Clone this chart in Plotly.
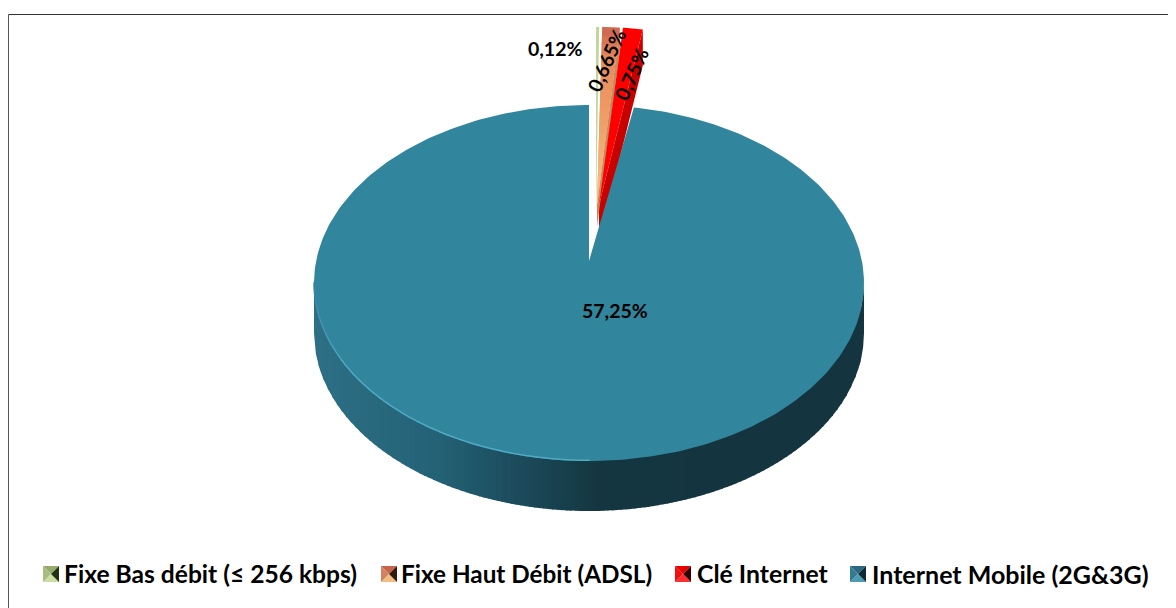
import numpy as np
import plotly.graph_objects as go

categories = ["Fixe Bas débit (≤ 256 kbps)", "Fixe Haut Débit (ADSL)", "Clé Internet", "Internet Mobile (2G&3G)"]
values = [0.12, 0.665, 0.75, 57.25]
top_colors = ["#c3d69b", "#e8935f", "#ff0000", "#31859c"]
wall_colors = ["#b5c88d", "#c38c5e", "#c90000", "#14343f"]

# pie geometry, in pixels of the page
CX, CY, RX, RY, DEPTH = 589, 283, 275, 178, 50
MAIN_APEX = (589, 261)
SMALL_APEX = (596, 205)
SMALL_RX, SMALL_RY = 250, 178
SMALL_DEPTH = [14, 22, 36]
APEX_SHIFT = [0, 1, 3]
RIM_SHIFT = [0, 3, 6]

total = sum(values)
edges = np.cumsum([0] + values) / total * 2 * np.pi
FONT = "Lato"

fig = go.Figure()


def poly(xs, ys, color, name=None):
    fig.add_trace(go.Scatter(x=list(xs), y=list(ys), mode="lines", fill="toself", fillcolor=color,
                             line=dict(width=0, color=color), hoverinfo="skip", name=name, showlegend=False))


def mix(a, b, t):
    return "rgb(%d,%d,%d)" % tuple(a[i] + (b[i] - a[i]) * t for i in range(3))


def small_outline(i):
    t = np.linspace(edges[i], edges[i + 1], 12)
    ax = SMALL_APEX[0] + APEX_SHIFT[i]
    ay = SMALL_APEX[1]
    ox = SMALL_APEX[0] + RIM_SHIFT[i] + SMALL_RX * np.sin(t)
    oy = ay - SMALL_RY * np.cos(t)
    return ax, ay, ox, oy


# small exploded slices: side walls first (red at the back), then top surfaces
for i in [2, 1, 0]:
    ax, ay, ox, oy = small_outline(i)
    d = SMALL_DEPTH[i]
    poly([ax, ox[-1], ox[-1], ax], [ay, oy[-1], oy[-1] + d, ay + d], wall_colors[i])

orange_stops = [(0.0, (246, 196, 140)), (0.45, (240, 160, 105)), (0.8, (232, 140, 92)), (1.0, (205, 102, 82))]
for i in [2, 1, 0]:
    ax, ay, ox, oy = small_outline(i)
    poly(np.r_[ax, ox], np.r_[ay, oy], top_colors[i], name=categories[i])
    if i == 1:
        # shaded radial bands of the orange slice
        fr = np.linspace(0, 1, 21)
        for f0, f1 in zip(fr[:-1], fr[1:]):
            f1b = min(1, f1 + 0.004)
            bx0 = ax + (ox - ax) * f0
            by0 = ay + (oy - ay) * f0
            bx1 = ax + (ox - ax) * f1b
            by1 = ay + (oy - ay) * f1b
            rgb = [np.interp((f0 + f1) / 2, [s[0] for s in orange_stops], [s[1][k] for s in orange_stops])
                   for k in range(3)]
            poly(np.r_[bx0, bx1[::-1]], np.r_[by0, by1[::-1]], "rgb(%d,%d,%d)" % tuple(rgb))

# main slice: side wall as vertical shaded strips
wall_stops = [(314, (46, 112, 134)), (440, (36, 98, 118)), (500, (30, 80, 98)), (597, (21, 55, 66)),
              (864, (20, 52, 63))]
stop_x = [s[0] for s in wall_stops]
n = 120
xs = np.linspace(CX - RX, CX + RX, n + 1)
for a, b in zip(xs[:-1], xs[1:]):
    gx = np.linspace(a, b + 1.0, 4)
    gx = np.clip(gx, CX - RX, CX + RX)
    low = CY + RY * np.sqrt(np.clip(1 - ((gx - CX) / RX) ** 2, 0, 1))
    m = (a + b) / 2
    rgb = [np.interp(m, stop_x, [s[1][k] for s in wall_stops]) for k in range(3)]
    poly(np.r_[gx, gx[::-1]], np.r_[low - 2, (low + DEPTH)[::-1]], "rgb(%d,%d,%d)" % tuple(rgb))

# main slice: top surface
t = np.linspace(edges[3], edges[4], 361)
ox = CX + RX * np.sin(t)
oy = CY - RY * np.cos(t)
poly(np.r_[MAIN_APEX[0], ox], np.r_[MAIN_APEX[1], oy], top_colors[3], name=categories[3])

# light rim on the lower-left edge of the top surface
rim = np.linspace(np.pi * 1.5, np.pi * 1.0, 50)
for j in range(len(rim) - 1):
    seg = np.linspace(rim[j], rim[j + 1] - 0.002, 3)
    fade = j / (len(rim) - 2)
    colr = mix((49, 133, 156), (80, 170, 196), min(1, fade / 0.3))
    fig.add_trace(go.Scatter(x=CX + RX * np.sin(seg), y=CY - RY * np.cos(seg) - 0.7, mode="lines",
                             line=dict(width=1.5, color=colr), hoverinfo="skip", showlegend=False))

# value labels
fmt = [f"{v:g}".replace(".", ",") + "%" for v in values]
label_pos = [(555, 48, 0), (606, 60, -66), (631, 74, -66), (615, 310, 0)]
annotations = []
for txt, (lx, ly, ang) in zip(fmt, label_pos):
    annotations.append(dict(x=lx, y=ly, text=f"<b>{txt}</b>", showarrow=False, textangle=ang,
                            font=dict(family=FONT, size=19.5, color="black"), xanchor="center", yanchor="middle"))

# legend
swatches = [((205, 222, 165), (150, 170, 110), (35, 50, 20)),
            ((240, 190, 130), (195, 100, 75), (50, 25, 10)),
            ((255, 45, 45), (235, 0, 0), (55, 0, 0)),
            ((75, 155, 178), (40, 105, 128), (12, 42, 52))]
legend_x = [43, 381, 675, 850]
text_x = [62, 399, 695, 870]
text_size = [24.6, 24.3, 24.8, 25]
LY0, LY1 = 566, 582
for (light, mid, dark), sx, tx, ts, cat in zip(swatches, legend_x, text_x, text_size, categories):
    sz = LY1 - LY0
    mx, my = sx + sz / 2, (LY0 + LY1) / 2
    poly([sx, sx + sz, mx], [LY1, LY1, my], "rgb(%d,%d,%d)" % light)
    poly([sx, sx + sz, mx], [LY0, LY0, my], "rgb(%d,%d,%d)" % mid)
    poly([sx, mx, sx], [LY0, my, LY1], mix(mid, light, 0.35))
    poly([sx + sz, mx, sx + sz], [LY0, my, LY1], "rgb(%d,%d,%d)" % dark)
    annotations.append(dict(x=tx, y=(LY0 + LY1) / 2 - 0.5, text=f"<b>{cat}</b>", showarrow=False, xanchor="left",
                            yanchor="middle", font=dict(family=FONT, size=ts, color="black")))

shapes = [
    dict(type="line", x0=8.5, y0=14.5, x1=1176, y1=14.5, line=dict(color="#333333", width=1), layer="below"),
    dict(type="line", x0=8.5, y0=14.5, x1=8.5, y1=608, line=dict(color="#555555", width=1), layer="below"),
]

fig.update_layout(
    width=1168, height=600, margin=dict(l=0, r=0, t=0, b=0), paper_bgcolor="white", plot_bgcolor="white",
    xaxis=dict(range=[8, 1176], visible=False, fixedrange=True),
    yaxis=dict(range=[608, 8], visible=False, fixedrange=True),
    annotations=annotations, shapes=shapes, showlegend=False,
)
fig.write_html("out.html")
